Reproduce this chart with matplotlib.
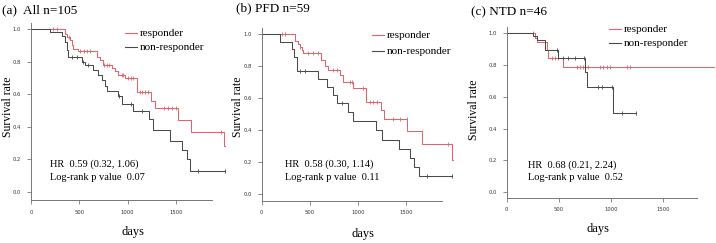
import matplotlib
matplotlib.use("Agg")
import matplotlib.pyplot as plt
import numpy as np

W, H = 716, 243
RED = "#e0646e"
GRAY = "#4a4a4a"
SERIF = "Liberation Serif"

# (a) All n=105
a_resp_t = [352, 369, 403, 421, 438, 490, 679, 714, 748, 834, 869, 903, 972, 1100, 1245, 1284, 1525, 1660, 1998]
a_resp_s = [0.97, 0.95, 0.93, 0.90, 0.88, 0.865, 0.83, 0.81, 0.78, 0.76, 0.74, 0.72, 0.70, 0.615, 0.56, 0.515, 0.44, 0.37, 0.28]
a_resp_end = 2005
a_resp_cens = [231, 265, 395, 510, 545, 580, 615, 760, 785, 810, 938, 955, 1007, 1041, 1058, 1125, 1150, 1180, 1215, 1377, 1420, 1460, 1505, 1967]
a_non_t = [197, 317, 352, 369, 386, 524, 559, 645, 697, 731, 765, 783, 903, 938, 1052, 1222, 1262, 1440, 1560, 1612, 1650]
a_non_s = [0.98, 0.96, 0.92, 0.87, 0.83, 0.80, 0.78, 0.75, 0.72, 0.69, 0.65, 0.62, 0.59, 0.54, 0.50, 0.45, 0.38, 0.315, 0.255, 0.20, 0.13]
a_non_end = 2005
a_non_cens = [421, 472, 541, 593, 910, 1041, 1145, 1732, 2005]

# (b) PFD n=59
b_resp_t = [347, 382, 399, 416, 434, 615, 660, 694, 814, 848, 951, 1082, 1237, 1271, 1514, 1663, 1975]
b_resp_s = [0.96, 0.94, 0.92, 0.90, 0.88, 0.84, 0.80, 0.776, 0.745, 0.70, 0.665, 0.578, 0.526, 0.468, 0.396, 0.313, 0.213]
b_resp_end = 1985
b_resp_cens = [208, 243, 400, 486, 538, 590, 746, 781, 920, 937, 1053, 1126, 1160, 1195, 1368, 1438, 1507, 1940]
b_non_t = [191, 315, 340, 364, 590, 680, 740, 780, 900, 954, 1188, 1247, 1430, 1541, 1583, 1638]
b_non_s = [0.95, 0.905, 0.86, 0.77, 0.72, 0.67, 0.62, 0.57, 0.515, 0.455, 0.40, 0.338, 0.28, 0.224, 0.171, 0.113]
b_non_end = 1978
b_non_cens = [395, 451, 830, 1715, 1978]

# (c) NTD n=46
c_resp_t = [272, 288, 385, 400, 544]
c_resp_s = [0.97, 0.945, 0.895, 0.843, 0.786]
c_resp_end = 1990
c_resp_cens = [250, 368, 433, 464, 496, 673, 705, 737, 785, 897, 929, 961, 994, 1154, 1186]
c_non_t = [256, 288, 368, 496, 753, 769, 1019]
c_non_s = [0.985, 0.955, 0.895, 0.843, 0.759, 0.664, 0.497]
c_non_end = 1240
c_non_cens = [487, 544, 592, 657, 740, 881, 913, 1010, 1110, 1240]

PANELS = [
    dict(title="(a)  All n=105", hr="HR  0.59 (0.32, 1.06)", p="Log-rank p value  0.07",
         resp=(a_resp_t, a_resp_s, a_resp_end, a_resp_cens), non=(a_non_t, a_non_s, a_non_end, a_non_cens),
         box=(31, 226, 22.5, 200), xlim=2020, ylim=(-0.049, 1.04), xbound=1870,
         title_xy=(2, 10), ylab_xy=(8, 107), xlab_xy=(133, 232), hr_xy=(50, 164),
         leg_xy=(125, 33), leg_dy=14),
    dict(title="(b) PFD n=59", hr="HR  0.58 (0.30, 1.14)", p="Log-rank p value  0.11",
         resp=(b_resp_t, b_resp_s, b_resp_end, b_resp_cens), non=(b_non_t, b_non_s, b_non_end, b_non_cens),
         box=(261.7, 455.1, 27.9, 200.7), xlim=2010, ylim=(-0.042, 1.04), xbound=1870,
         title_xy=(236, 8), ylab_xy=(238, 107), xlab_xy=(363, 234), hr_xy=(285, 164),
         leg_xy=(372, 35), leg_dy=16),
    dict(title="(c) NTD n=46", hr="HR  0.68 (0.21, 2.24)", p="Log-rank p value  0.52",
         resp=(c_resp_t, c_resp_s, c_resp_end, c_resp_cens), non=(c_non_t, c_non_s, c_non_end, c_non_cens),
         box=(506.7, 714.7, 26.9, 197.7), xlim=2000, ylim=(-0.034, 1.04), xbound=1830,
         title_xy=(471, 12), ylab_xy=(474, 110), xlab_xy=(598, 229), hr_xy=(528, 165),
         leg_xy=(609, 29), leg_dy=14),
]


def fx(px):
    return px / W


def fy(py):
    return 1 - py / H


def draw_curve(ax, curve, color):
    t, s, end, cens = curve
    xs = np.r_[0, t, end]
    ys = np.r_[1.0, s, s[-1]]
    ax.step(xs, ys, where="post", color=color, lw=0.75)
    idx = np.searchsorted(xs, cens, side="right") - 1
    ax.plot(cens, ys[idx], ls="none", marker="|", ms=3.5, mew=0.6, color=color)


fig = plt.figure(figsize=(W / 100, H / 100), dpi=100)

for p in PANELS:
    l, r, t, b = p["box"]
    ax = fig.add_axes([fx(l), fy(b), (r - l) / W, (b - t) / H])
    draw_curve(ax, p["resp"], RED)
    draw_curve(ax, p["non"], GRAY)
    ax.set_xlim(0, p["xlim"])
    ax.set_ylim(*p["ylim"])
    ax.set_xticks([0, 500, 1000, 1500])
    ax.set_yticks([0.0, 0.2, 0.4, 0.6, 0.8, 1.0])
    ax.set_yticklabels(["0.0", "0.2", "0.4", "0.6", "0.8", "1.0"])
    ax.spines[["top", "right"]].set_visible(False)
    ax.spines["bottom"].set_bounds(0, p["xbound"])
    for sp in ("left", "bottom"):
        ax.spines[sp].set_color("#777777")
        ax.spines[sp].set_linewidth(0.7)
    ax.tick_params(length=3, width=0.6, color="#777777", labelsize=3.8, pad=4, labelcolor="#333333")

    fig.text(fx(p["title_xy"][0]), fy(p["title_xy"][1]), p["title"], family=SERIF, fontsize=9.5,
             ha="left", va="center")
    fig.text(fx(p["ylab_xy"][0]), fy(p["ylab_xy"][1]), "Survival rate", family=SERIF, fontsize=8.5,
             rotation=90, ha="center", va="center")
    fig.text(fx(p["xlab_xy"][0]), fy(p["xlab_xy"][1]), "days", family=SERIF, fontsize=9,
             ha="center", va="center")
    hx, hy = p["hr_xy"]
    fig.text(fx(hx), fy(hy), p["hr"], family=SERIF, fontsize=7.5, ha="left", va="center")
    fig.text(fx(hx), fy(hy + 13), p["p"], family=SERIF, fontsize=7.5, ha="left", va="center")

    lx, ly = p["leg_xy"]
    for i, (lab, col) in enumerate([("responder", RED), ("non-responder", GRAY)]):
        yy = fy(ly + i * p["leg_dy"])
        fig.add_artist(plt.Line2D([fx(lx), fx(lx + 12)], [yy, yy], color=col, lw=0.8))
        fig.text(fx(lx + 15), yy, lab, family=SERIF, fontsize=8, ha="left", va="center")

fig.savefig("out.png", dpi=100)
